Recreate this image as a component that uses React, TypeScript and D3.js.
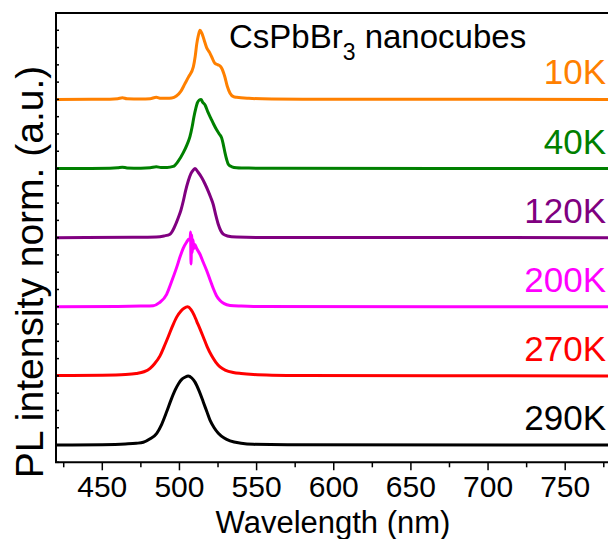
import * as d3 from "d3";

// wavelength (nm) vs normalized PL intensity
const orange10K: [number, number][] = [
  [420, 0], [455, 0.003], [460, 0.01], [463, 0.025], [466, 0.008], [475, 0.005], [481, 0.01],
  [485, 0.03], [488, 0.015], [492, 0.015], [495, 0.02], [498, 0.05], [501, 0.12], [503.6, 0.23],
  [506, 0.33], [509, 0.47], [510.2, 0.62], [511.2, 0.8], [512.3, 0.93], [513.3, 1.0], [514.5, 0.96],
  [516, 0.86], [517.6, 0.75], [519.5, 0.68], [521, 0.61], [523, 0.52], [525, 0.5], [526.5, 0.48],
  [527.4, 0.45], [529.5, 0.32], [531, 0.19], [532.8, 0.09], [535, 0.04], [537, 0.03], [545, 0.015],
  [560, 0.006], [580, 0.003], [780, 0],
];
const green40K: [number, number][] = [
  [420, 0], [455, 0.003], [460, 0.01], [463, 0.02], [466, 0.008], [475, 0.005], [481, 0.01],
  [485, 0.025], [488, 0.015], [492, 0.015], [496, 0.03], [499, 0.1], [502.5, 0.23], [505, 0.35],
  [506.8, 0.46], [508.2, 0.6], [509.4, 0.75], [510.6, 0.87], [511.6, 0.95], [512.8, 0.99], [514, 1.0],
  [515, 0.96], [516.6, 0.92], [518.4, 0.82], [520.3, 0.73], [522.2, 0.64], [524.1, 0.56],
  [525.8, 0.5], [527.4, 0.44], [528.4, 0.35], [529.5, 0.23], [530.6, 0.13], [531.7, 0.06],
  [534, 0.025], [537, 0.012], [545, 0.006], [560, 0.003], [780, 0],
];
const purple120K: [number, number][] = [
  [420, 0], [470, 0.005], [485, 0.01], [490, 0.025], [493.9, 0.05], [496.5, 0.14], [499.3, 0.29],
  [501, 0.4], [502.5, 0.53], [504, 0.68], [505.7, 0.82], [507.5, 0.93], [509, 0.98], [510.1, 1.0],
  [512, 0.95], [514.4, 0.87], [516.5, 0.78], [518.7, 0.67], [520.3, 0.58], [521.9, 0.48],
  [523.5, 0.33], [525.2, 0.19], [526.8, 0.1], [528.4, 0.05], [531, 0.025], [537, 0.008],
  [550, 0.003], [780, 0],
];
const magenta200K: [number, number][] = [
  [420, 0], [460, 0.005], [475, 0.01], [483, 0.015], [487, 0.06], [491.7, 0.18], [494.5, 0.34],
  [498.2, 0.57], [500.5, 0.73], [502.5, 0.85], [504.5, 0.93], [506.2, 0.98], [506.9, 0.96],
  [507.2, 1.08], [507.5, 0.62], [507.9, 1.04], [508.3, 0.78], [508.8, 0.97], [509.3, 0.84],
  [510, 0.9], [511, 0.85], [513.3, 0.76], [515.5, 0.64], [517.7, 0.52], [520, 0.38], [522, 0.26],
  [524, 0.16], [526.3, 0.09], [529, 0.045], [532.8, 0.02], [540, 0.01], [548, 0.005], [780, 0],
];
const red270K: [number, number][] = [
  [420, 0.005], [450, 0.01], [465, 0.02], [472, 0.035], [477, 0.06], [481, 0.11], [484, 0.18],
  [487.4, 0.29], [490, 0.42], [492.8, 0.57], [495.5, 0.72], [498.2, 0.85], [501, 0.94], [503, 0.98],
  [505.3, 1.0], [507.5, 0.96], [509.5, 0.88], [511.2, 0.79], [513.5, 0.67], [515.5, 0.56],
  [518, 0.42], [520.9, 0.29], [523.5, 0.2], [526.3, 0.13], [530, 0.08], [534.9, 0.05],
  [540, 0.035], [548, 0.02], [560, 0.01], [580, 0.005], [780, 0],
];
const black290K: [number, number][] = [
  [420, 0], [450, 0.005], [465, 0.015], [472, 0.025], [476.6, 0.04], [481, 0.09], [485.3, 0.17],
  [488.5, 0.3], [491.7, 0.48], [494.5, 0.65], [497.1, 0.79], [499.5, 0.89], [501.5, 0.95],
  [503.5, 0.98], [505.7, 1.0], [508, 0.97], [510.1, 0.91], [512.8, 0.78], [515.5, 0.62],
  [517.8, 0.48], [519.8, 0.36], [522.5, 0.25], [525.2, 0.17], [529, 0.1], [532.8, 0.06],
  [540, 0.025], [548, 0.01], [570, 0.003], [780, 0],
];

const temps = ["10K", "40K", "120K", "200K", "270K", "290K"];
const colors = ["#FF8000", "#008000", "#800080", "#FF00FF", "#FF0000", "#000000"];
const offsets = [5, 4, 3, 2, 1, 0];
const spectra = [orange10K, green40K, purple120K, magenta200K, red270K, black290K];

const xTickLabels = [450, 500, 550, 600, 650, 700, 750];
const xMinorTicks = [425, 475, 525, 575, 625, 675, 725, 775];
const yMinorTicks = d3.range(-1, 26).map((i) => i * 0.25);

const W = 608;
const H = 539;
const font = "'Liberation Sans', Arial, sans-serif";

export default function App() {
  const x = d3.scaleLinear().domain([420, 780]).range([56, 611.5]);
  const y = d3.scaleLinear().domain([-0.25, 6.25]).range([462.3, 13]);

  return (
    <svg
      width={W}
      height={H}
      style={{ position: "absolute", left: 0, top: 0, background: "#fff" }}
      fontFamily={font}
    >
      {spectra.map((s, i) => {
        const line = d3
          .line<[number, number]>()
          .x((d) => x(d[0]))
          .y((d) => y(d[1] + offsets[i]))
          .curve(d3.curveMonotoneX);
        return (
          <path
            key={temps[i]}
            d={line(s) ?? ""}
            fill="none"
            stroke={colors[i]}
            strokeWidth={3}
            strokeLinejoin="round"
          />
        );
      })}

      {/* frame */}
      <line x1={x(420)} x2={x(420)} y1={y(6.25)} y2={y(-0.25)} stroke="#000" strokeWidth={2} />
      <line x1={x(420) - 1} x2={x(780)} y1={y(-0.25)} y2={y(-0.25)} stroke="#000" strokeWidth={2} />
      <line x1={x(420) - 1} x2={x(780)} y1={y(6.25)} y2={y(6.25)} stroke="#000" strokeWidth={2} />

      {yMinorTicks.map((t) => (
        <line key={t} x1={x(420)} x2={x(420) + 3} y1={y(t)} y2={y(t)} stroke="#000" strokeWidth={1.5} />
      ))}
      {xTickLabels.map((t) => (
        <g key={t}>
          <line x1={x(t)} x2={x(t)} y1={y(-0.25)} y2={y(-0.25) + 8} stroke="#000" strokeWidth={1.5} />
          <text x={x(t)} y={497} fontSize={30} textAnchor="middle" fill="#000">
            {t}
          </text>
        </g>
      ))}
      {xMinorTicks.map((t) => (
        <line key={t} x1={x(t)} x2={x(t)} y1={y(-0.25)} y2={y(-0.25) + 5} stroke="#000" strokeWidth={1.5} />
      ))}

      {temps.map((t, i) => (
        <text
          key={t}
          x={606}
          y={y(offsets[i]) - 15}
          fontSize={35}
          textAnchor="end"
          fill={colors[i]}
        >
          {t}
        </text>
      ))}

      <text x={229} y={48} fontSize={33} fill="#000">
        CsPbBr<tspan fontSize={23} dy={12}>3</tspan>
        <tspan dy={-12}> nanocubes</tspan>
      </text>

      <text x={333} y={533} fontSize={31} textAnchor="middle" fill="#000">
        Wavelength (nm)
      </text>
      <text
        transform={`translate(43,${272}) rotate(-90)`}
        fontSize={39}
        textAnchor="middle"
        fill="#000"
      >
        PL intensity norm. (a.u.)
      </text>
    </svg>
  );
}
